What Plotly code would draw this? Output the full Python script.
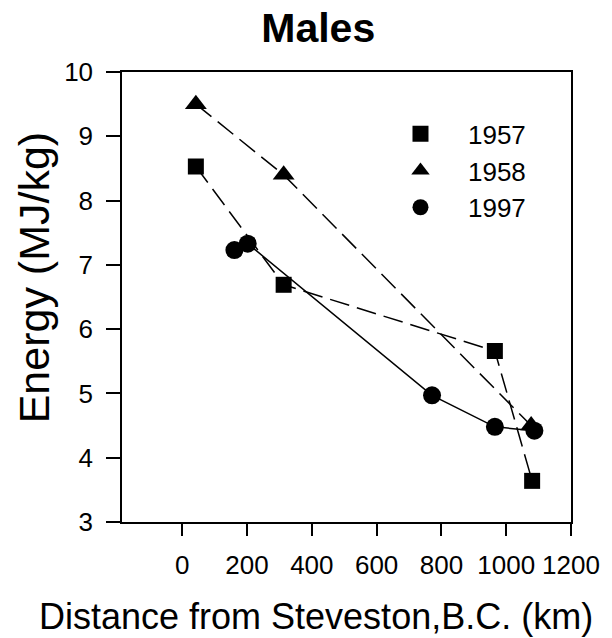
import plotly.graph_objects as go

# Data (distance km, energy MJ/kg)
dist_1957 = [42, 313, 965, 1080]
energy_1957 = [8.53, 6.69, 5.66, 3.64]

dist_1958 = [42, 313, 1077]
energy_1958 = [9.50, 8.40, 4.50]

dist_1997 = [161, 202, 771, 965, 1087]
energy_1997 = [7.23, 7.33, 4.97, 4.48, 4.42]

x_ticks = [0, 200, 400, 600, 800, 1000, 1200]
y_ticks = [3, 4, 5, 6, 7, 8, 9, 10]

FONT = "Liberation Sans, Arial, sans-serif"
dash = "20px,8px"

fig = go.Figure()
fig.add_trace(go.Scatter(x=dist_1957, y=energy_1957, mode="lines+markers",
                         line=dict(color="black", width=1.5, dash=dash),
                         marker=dict(symbol="square", size=16, color="black"),
                         showlegend=False))
fig.add_trace(go.Scatter(x=dist_1958, y=energy_1958, mode="lines+markers",
                         line=dict(color="black", width=1.5, dash=dash),
                         marker=dict(symbol="triangle-up", size=19, color="black"),
                         showlegend=False))
fig.add_trace(go.Scatter(x=dist_1997, y=energy_1997, mode="lines+markers",
                         line=dict(color="black", width=1.5),
                         marker=dict(symbol="circle", size=18, color="black"),
                         showlegend=False))

# legend-only entries (markers only)
for name, sym in [("1957", "square"), ("1958", "triangle-up"), ("1997", "circle")]:
    fig.add_trace(go.Scatter(x=[None], y=[None], mode="markers", name=name,
                             legendgroup=name,
                             marker=dict(symbol=sym, size=16, color="black")))

fig.update_layout(
    width=612, height=638,
    margin=dict(l=122, r=34, t=72, b=116),
    paper_bgcolor="white", plot_bgcolor="white",
    font=dict(family=FONT, color="black"),
    title=dict(text="<b>Males</b>", x=0.52, xanchor="center", y=0.956, yanchor="middle",
               font=dict(size=41, family=FONT)),
    legend=dict(x=0.559, y=0.915, xanchor="left", yanchor="top",
                bgcolor="rgba(0,0,0,0)", font=dict(size=26, family=FONT),
                itemwidth=85, tracegroupgap=0, traceorder="grouped"),
    annotations=[
        dict(text="Distance from Steveston,B.C. (km)", xref="paper", yref="paper",
             x=(319 - 122) / 456, y=-0.21, xanchor="center", yanchor="middle",
             showarrow=False, font=dict(size=36, family=FONT)),
        dict(text="Energy (MJ/kg)", xref="paper", yref="paper",
             x=(33 - 122) / 456, y=(522 - 277) / 450, xanchor="center", yanchor="middle",
             textangle=-90, showarrow=False, font=dict(size=43, family=FONT)),
    ],
)
fig.update_xaxes(range=[-186, 1200], tickvals=x_ticks, ticks="outside", ticklen=12,
                 tickwidth=1.5, tickcolor="black", showline=True, linecolor="black",
                 linewidth=1.5, mirror=True, showgrid=False, zeroline=False,
                 tickfont=dict(size=26), ticklabelstandoff=7)
fig.update_yaxes(range=[3, 10], tickvals=y_ticks, ticks="outside", ticklen=14,
                 tickwidth=1.5, tickcolor="black", showline=True, linecolor="black",
                 linewidth=1.5, mirror=True, showgrid=False, zeroline=False,
                 tickfont=dict(size=26), ticklabelstandoff=8)

fig.write_html("out.html")
